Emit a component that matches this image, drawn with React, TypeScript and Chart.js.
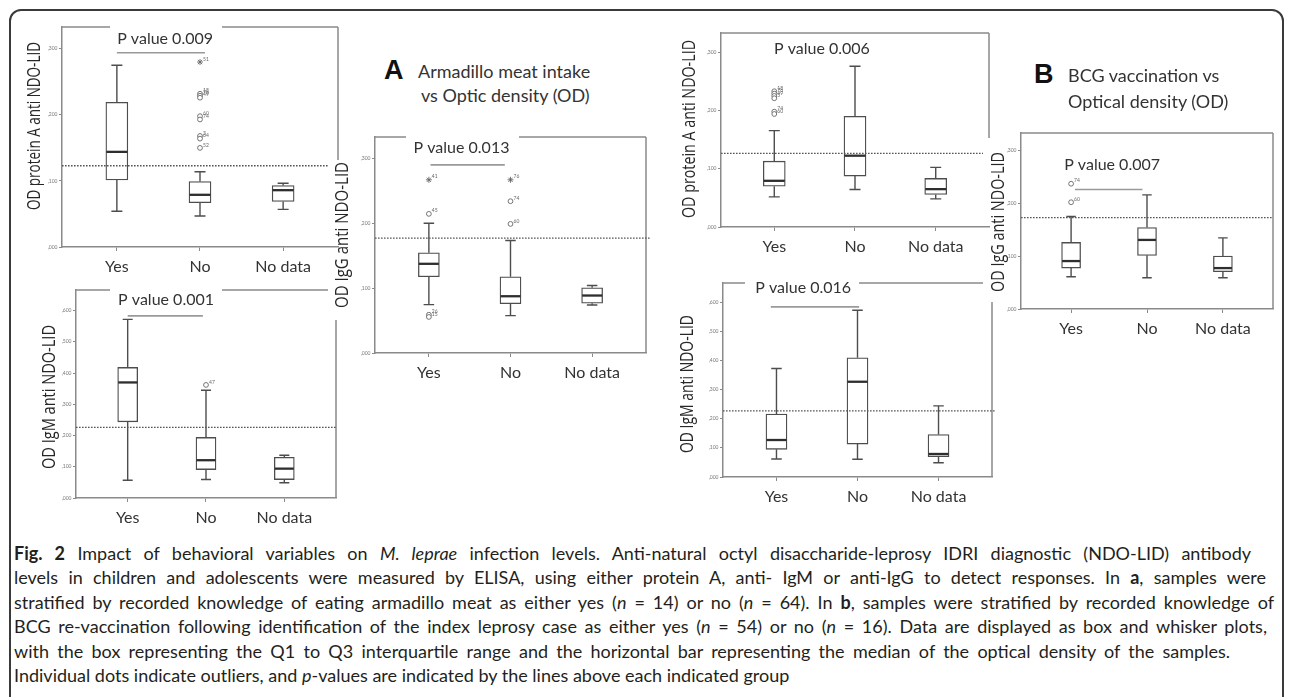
import React, { useEffect, useRef } from "react";
import { Chart, registerables } from "chart.js";

Chart.register(...registerables);

// ---------- data ----------
const CATEGORIES = ["Yes", "No", "No data"];
const TICKS_LOW = [0, 0.1, 0.2, 0.3];
const TICK_LABELS_LOW = [",000", ",100", ",200", ",300"];
const TICKS_HIGH = [0, 0.1, 0.2, 0.3, 0.4, 0.5, 0.6];
const TICK_LABELS_HIGH = [",000", ",100", ",200", ",300", ",400", ",500", ",600"];

// box stats per category: [lower whisker, Q1, median, Q3, upper whisker]
const armProtA_box = [
  [0.054, 0.1015, 0.144, 0.219, 0.275],
  [0.047, 0.067, 0.079, 0.099, 0.114],
  [0.057, 0.069, 0.086, 0.093, 0.0965],
];
// outliers: [category (1-based), value, case label, extreme]
const armProtA_out = [
  [2, 0.28, "51", 1], [2, 0.232, "18", 0], [2, 0.229, "76", 0], [2, 0.226, "49", 0],
  [2, 0.198, "60", 0], [2, 0.193, "74", 0], [2, 0.168, "3", 0], [2, 0.164, "64", 0], [2, 0.15, "52", 0],
];
const armProtA_cutoff = 0.123;
const armProtA_p = "P value 0.009";
const armProtA_pLine = [1.0, 2.06, 0.294];
const armProtA_pPos = [1.58, 0.315];

const armIgM_box = [
  [0.057, 0.244, 0.37, 0.418, 0.572],
  [0.059, 0.091, 0.121, 0.194, 0.345],
  [0.049, 0.059, 0.094, 0.13, 0.137],
];
const armIgM_out = [[2, 0.362, "47", 0]];
const armIgM_cutoff = 0.226;
const armIgM_p = "P value 0.001";
const armIgM_pLine = [1.0, 1.96, 0.583];
const armIgM_pPos = [1.49, 0.634];

const armIgG_box = [
  [0.0746, 0.1175, 0.1375, 0.1545, 0.2],
  [0.0576, 0.076, 0.0875, 0.1175, 0.1735],
  [0.074, 0.0767, 0.0886, 0.1005, 0.104],
];
const armIgG_out = [
  [1, 0.267, "41", 1], [1, 0.2145, "45", 0], [1, 0.059, "26", 0], [1, 0.0556, "15", 0],
  [2, 0.267, "76", 1], [2, 0.234, "74", 0], [2, 0.199, "60", 0],
];
const armIgG_cutoff = 0.177;
const armIgG_p = "P value 0.013";
const armIgG_pLine = [1.02, 1.93, 0.29];
const armIgG_pPos = [1.4, 0.317];

const bcgProtA_box = [
  [0.0517, 0.07, 0.0793, 0.113, 0.1655],
  [0.0644, 0.0874, 0.1224, 0.19, 0.276],
  [0.0483, 0.0559, 0.065, 0.0834, 0.1024],
];
const bcgProtA_out = [
  [1, 0.233, "18", 0], [1, 0.229, "76", 0], [1, 0.225, "49", 0], [1, 0.221, "5", 0],
  [1, 0.198, "74", 0], [1, 0.194, "60", 0],
];
const bcgProtA_cutoff = 0.1265;
const bcgProtA_p = "P value 0.006";
const bcgProtA_pLine = null;
const bcgProtA_pPos = [1.59, 0.305];

const bcgIgM_box = [
  [0.062, 0.095, 0.127, 0.216, 0.3726],
  [0.061, 0.113, 0.327, 0.409, 0.5725],
  [0.049, 0.0697, 0.079, 0.146, 0.244],
];
const bcgIgM_out = [];
const bcgIgM_cutoff = 0.227;
const bcgIgM_p = "P value 0.016";
const bcgIgM_pLine = [0.93, 2.02, 0.584];
const bcgIgM_pPos = [1.33, 0.648];

const bcgIgG_box = [
  [0.061, 0.0774, 0.0907, 0.126, 0.175],
  [0.059, 0.1015, 0.1307, 0.154, 0.216],
  [0.059, 0.0705, 0.0774, 0.1, 0.1345],
];
const bcgIgG_out = [[1, 0.237, "74", 0], [1, 0.202, "60", 0]];
const bcgIgG_cutoff = 0.173;
const bcgIgG_p = "P value 0.007";
const bcgIgG_pLine = [1.05, 1.94, 0.226];
const bcgIgG_pPos = [1.54, 0.272];

// ---------- styles / layout ----------
const FRAME = "#8a8a8a";
const BOX = "#4d4d4d";

const PANELS = [
  {
    key: "armProtA", box: armProtA_box, out: armProtA_out, cutoff: armProtA_cutoff,
    pText: armProtA_p, pLine: armProtA_pLine, pPos: armProtA_pPos,
    ticks: TICKS_LOW, tickLabels: TICK_LABELS_LOW, yMax: 0.333, title: "OD protein A anti NDO-LID",
    g: { ax: 62, top: 27, right: 338, bottom: 247, bar: 22, tx: 35, ty: 126, tlen: 168,
      topSegs: [[62, 110], [222, 338]], rightSeg: [27, 160], dashEnd: 328 },
  },
  {
    key: "armIgM", box: armIgM_box, out: armIgM_out, cutoff: armIgM_cutoff,
    pText: armIgM_p, pLine: armIgM_pLine, pPos: armIgM_pPos,
    ticks: TICKS_HIGH, tickLabels: TICK_LABELS_HIGH, yMax: 0.666, title: "OD IgM anti NDO-LID",
    g: { ax: 76, top: 290, right: 336, bottom: 498, bar: 20, tx: 50, ty: 397, tlen: 144,
      topSegs: [[76, 110], [222, 328]], rightSeg: [320, 498], dashEnd: 336 },
  },
  {
    key: "armIgG", box: armIgG_box, out: armIgG_out, cutoff: armIgG_cutoff,
    pText: armIgG_p, pLine: armIgG_pLine, pPos: armIgG_pPos,
    ticks: TICKS_LOW, tickLabels: TICK_LABELS_LOW, yMax: 0.333, title: "OD IgG anti NDO-LID",
    g: { ax: 375, top: 137, right: 646, bottom: 353, bar: 21, tx: 343, ty: 235, tlen: 146,
      topSegs: [[375, 406], [519, 646]], rightSeg: [137, 353], dashEnd: 650 },
  },
  {
    key: "bcgProtA", box: bcgProtA_box, out: bcgProtA_out, cutoff: bcgProtA_cutoff,
    pText: bcgProtA_p, pLine: bcgProtA_pLine, pPos: bcgProtA_pPos,
    ticks: TICKS_LOW, tickLabels: TICK_LABELS_LOW, yMax: 0.333, title: "OD protein A anti NDO-LID",
    g: { ax: 721, top: 33, right: 989, bottom: 227, bar: 22, tx: 690, ty: 129, tlen: 178,
      topSegs: [[721, 989]], rightSeg: [33, 138], dashEnd: 983 },
  },
  {
    key: "bcgIgM", box: bcgIgM_box, out: bcgIgM_out, cutoff: bcgIgM_cutoff,
    pText: bcgIgM_p, pLine: bcgIgM_pLine, pPos: bcgIgM_pPos,
    ticks: TICKS_HIGH, tickLabels: TICK_LABELS_HIGH, yMax: 0.666, title: "OD IgM anti NDO-LID",
    g: { ax: 723, top: 283, right: 992, bottom: 477, bar: 21, tx: 688, ty: 384, tlen: 138,
      topSegs: [[723, 745], [859, 983]], rightSeg: [302, 477], dashEnd: 995 },
  },
  {
    key: "bcgIgG", box: bcgIgG_box, out: bcgIgG_out, cutoff: bcgIgG_cutoff,
    pText: bcgIgG_p, pLine: bcgIgG_pLine, pPos: bcgIgG_pPos,
    ticks: TICKS_LOW, tickLabels: TICK_LABELS_LOW, yMax: 0.333, title: "OD IgG anti NDO-LID",
    g: { ax: 1021, top: 133, right: 1273, bottom: 309, bar: 19, tx: 999, ty: 222, tlen: 140,
      topSegs: [[1021, 1273]], rightSeg: [133, 309], dashEnd: 1273 },
  },
];

function Panel({ cfg }: { cfg: any }) {
  const ref = useRef<HTMLCanvasElement>(null);
  const g = cfg.g;
  const W = g.right - g.ax + 80;
  const H = g.bottom - g.top + 60;
  const ox = g.ax - 60;
  const oy = g.top - 20;

  useEffect(() => {
    const canvas = ref.current!;
    const extras = {
      id: "extras_" + cfg.key,
      beforeDatasetsDraw(chart: any) {
        const { ctx, chartArea: ca } = chart;
        const xs = chart.scales.x;
        const ys = chart.scales.y;
        ctx.save();
        ctx.strokeStyle = FRAME;
        ctx.lineWidth = 1.5;
        ctx.beginPath();
        g.topSegs.forEach(([a, b]: number[]) => {
          ctx.moveTo(a - ox, ca.top);
          ctx.lineTo(b - ox, ca.top);
        });
        ctx.moveTo(ca.right, g.rightSeg[0] - oy);
        ctx.lineTo(ca.right, g.rightSeg[1] - oy);
        ctx.stroke();

        ctx.strokeStyle = BOX;
        ctx.lineWidth = 1.4;
        const cap = g.bar / 4;
        cfg.box.forEach((b: number[], i: number) => {
          const x = xs.getPixelForValue(i + 1);
          const yMin = ys.getPixelForValue(b[0]);
          const yQ1 = ys.getPixelForValue(b[1]);
          const yQ3 = ys.getPixelForValue(b[3]);
          const yMax = ys.getPixelForValue(b[4]);
          ctx.beginPath();
          ctx.moveTo(x, yQ1); ctx.lineTo(x, yMin);
          ctx.moveTo(x - cap, yMin); ctx.lineTo(x + cap, yMin);
          ctx.moveTo(x, yQ3); ctx.lineTo(x, yMax);
          ctx.moveTo(x - cap, yMax); ctx.lineTo(x + cap, yMax);
          ctx.stroke();
        });
        ctx.restore();
      },
      afterDatasetsDraw(chart: any) {
        const { ctx, chartArea: ca } = chart;
        const xs = chart.scales.x;
        const ys = chart.scales.y;
        ctx.save();
        // medians
        ctx.strokeStyle = "#2e2e2e";
        ctx.lineWidth = 2.3;
        cfg.box.forEach((b: number[], i: number) => {
          const x = xs.getPixelForValue(i + 1);
          const y = ys.getPixelForValue(b[2]);
          ctx.beginPath();
          ctx.moveTo(x - g.bar / 2 + 0.5, y);
          ctx.lineTo(x + g.bar / 2 - 0.5, y);
          ctx.stroke();
        });
        // cutoff
        ctx.strokeStyle = "#555";
        ctx.lineWidth = 1.3;
        ctx.setLineDash([1.6, 1.4]);
        const yc = ys.getPixelForValue(cfg.cutoff);
        ctx.beginPath();
        ctx.moveTo(ca.left, yc);
        ctx.lineTo(g.dashEnd - ox, yc);
        ctx.stroke();
        ctx.setLineDash([]);
        // outlier labels
        ctx.fillStyle = "#666";
        ctx.font = "5px Lato";
        ctx.textAlign = "left";
        ctx.textBaseline = "middle";
        cfg.out.forEach((o: any[]) => {
          ctx.fillText(o[2], xs.getPixelForValue(o[0]) + 3, ys.getPixelForValue(o[1]) - 3);
        });
        // p-value line & text
        if (cfg.pLine) {
          ctx.strokeStyle = "#9a9a9a";
          ctx.lineWidth = 1.6;
          const yp = ys.getPixelForValue(cfg.pLine[2]);
          ctx.beginPath();
          ctx.moveTo(xs.getPixelForValue(cfg.pLine[0]), yp);
          ctx.lineTo(xs.getPixelForValue(cfg.pLine[1]), yp);
          ctx.stroke();
        }
        ctx.fillStyle = "#333";
        ctx.font = "16px Lato";
        ctx.textAlign = "center";
        ctx.fillText(cfg.pText, xs.getPixelForValue(cfg.pPos[0]), ys.getPixelForValue(cfg.pPos[1]));
        // y title
        ctx.save();
        ctx.translate(g.tx - ox, g.ty - oy);
        ctx.rotate(-Math.PI / 2);
        ctx.font = '18px "Open Sans"';
        const w = ctx.measureText(cfg.title).width;
        ctx.scale(g.tlen / w, 1);
        ctx.fillStyle = "#262626";
        ctx.textAlign = "center";
        ctx.textBaseline = "middle";
        ctx.fillText(cfg.title, 0, 0);
        ctx.restore();
        ctx.restore();
      },
    };

    const chart = new Chart(canvas, {
      type: "bar",
      data: {
        datasets: [
          {
            type: "bar",
            data: cfg.box.map((b: number[], i: number) => ({ x: i + 1, y: [b[1], b[3]] })),
            backgroundColor: "#fff",
            borderColor: BOX,
            borderWidth: 1.3,
            borderSkipped: false,
            barThickness: g.bar,
            order: 2,
          } as any,
          {
            type: "scatter",
            data: cfg.out.map((o: any[]) => ({ x: o[0], y: o[1] })),
            pointStyle: cfg.out.map((o: any[]) => (o[3] ? "star" : "circle")),
            pointRadius: cfg.out.map((o: any[]) => (o[3] ? 3 : 2.4)),
            backgroundColor: "#fff",
            borderColor: "#666",
            borderWidth: 0.9,
            order: 1,
          } as any,
        ],
      },
      options: {
        responsive: false,
        animation: false,
        devicePixelRatio: 1,
        layout: { padding: { left: 0, top: 20, right: 20, bottom: 0 } },
        plugins: { legend: { display: false }, tooltip: { enabled: false } },
        scales: {
          x: {
            type: "linear",
            min: 0.34,
            max: 3.66,
            offset: false,
            afterBuildTicks: (s: any) => {
              s.ticks = CATEGORIES.map((_, i) => ({ value: i + 1 }));
            },
            afterFit: (s: any) => {
              s.height = 40;
            },
            ticks: {
              callback: (_v: any, i: number) => CATEGORIES[i],
              font: { family: "Lato", size: 16 },
              color: "#333",
              padding: 6,
              maxRotation: 0,
              autoSkip: false,
            },
            grid: { display: true, drawOnChartArea: false, drawTicks: true, tickLength: 4, color: FRAME, offset: false },
            border: { display: true, color: FRAME, width: 1.5 },
          },
          y: {
            type: "linear",
            min: 0,
            max: cfg.yMax,
            afterBuildTicks: (s: any) => {
              s.ticks = cfg.ticks.map((v: number) => ({ value: v }));
            },
            afterFit: (s: any) => {
              s.width = 60;
            },
            ticks: {
              callback: (_v: any, i: number) => cfg.tickLabels[i],
              font: { family: "Lato", size: 5 },
              color: "#777",
              padding: 1.5,
              autoSkip: false,
            },
            grid: { display: true, drawOnChartArea: false, drawTicks: true, tickLength: 3, color: FRAME },
            border: { display: true, color: FRAME, width: 1.5 },
          },
        },
      } as any,
      plugins: [extras as any],
    });
    return () => chart.destroy();
  }, []);

  return (
    <canvas
      ref={ref}
      width={W}
      height={H}
      style={{ position: "absolute", left: ox, top: oy, width: W, height: H }}
    />
  );
}

const capLine = (width: number | null): React.CSSProperties => ({
  width: width ?? undefined,
  whiteSpace: "nowrap",
  textAlign: width ? "justify" : "left",
  textAlignLast: width ? "justify" : "left",
} as any);

export default function App() {
  return (
    <div
      style={{
        position: "fixed",
        left: 0,
        top: 0,
        width: 1292,
        height: 697,
        background: "#fff",
        overflow: "hidden",
        fontFamily: "Lato, sans-serif",
      }}
    >
      <div
        style={{
          position: "absolute",
          left: 9,
          top: 9,
          width: 1275,
          height: 760,
          boxSizing: "border-box",
          border: "2px solid #3a3a3a",
          borderRadius: 12,
        }}
      />
      {PANELS.map((p) => (
        <Panel key={p.key} cfg={p} />
      ))}

      <div style={{ position: "absolute", left: 384, top: 57, fontFamily: '"Liberation Sans", Arial, sans-serif', fontWeight: 700, fontSize: 27, lineHeight: "27px", color: "#111" }}>A</div>
      <div style={{ position: "absolute", left: 418, top: 62, fontSize: 18, lineHeight: "18px", color: "#333" }}>Armadillo meat intake</div>
      <div style={{ position: "absolute", left: 421, top: 86, fontSize: 18, lineHeight: "18px", color: "#333" }}>vs Optic density (OD)</div>

      <div style={{ position: "absolute", left: 1034, top: 61, fontFamily: '"Liberation Sans", Arial, sans-serif', fontWeight: 700, fontSize: 27, lineHeight: "27px", color: "#111" }}>B</div>
      <div style={{ position: "absolute", left: 1068, top: 66, fontSize: 18, lineHeight: "18px", color: "#333" }}>BCG vaccination vs</div>
      <div style={{ position: "absolute", left: 1068, top: 92, fontSize: 18, lineHeight: "18px", color: "#333" }}>Optical density (OD)</div>

      <div
        style={{
          position: "absolute",
          left: 14,
          top: 541,
          fontSize: 18,
          lineHeight: "24.4px",
          color: "#231f20",
        }}
      >
        <div style={capLine(1237)}>
          <b>Fig. 2</b> Impact of behavioral variables on <i>M. leprae</i> infection levels. Anti-natural octyl disaccharide-leprosy IDRI diagnostic (NDO-LID) antibody
        </div>
        <div style={capLine(1252)}>
          levels in children and adolescents were measured by ELISA, using either protein A, anti- IgM or anti-IgG to detect responses. In <b>a</b>, samples were
        </div>
        <div style={capLine(1260)}>
          stratified by recorded knowledge of eating armadillo meat as either yes (<i>n</i> = 14) or no (<i>n</i> = 64). In <b>b</b>, samples were stratified by recorded knowledge of
        </div>
        <div style={capLine(1253)}>
          BCG re-vaccination following identification of the index leprosy case as either yes (<i>n</i> = 54) or no (<i>n</i> = 16). Data are displayed as box and whisker plots,
        </div>
        <div style={capLine(1216)}>
          with the box representing the Q1 to Q3 interquartile range and the horizontal bar representing the median of the optical density of the samples.
        </div>
        <div style={capLine(null)}>
          Individual dots indicate outliers, and <i>p</i>-values are indicated by the lines above each indicated group
        </div>
      </div>
    </div>
  );
}
